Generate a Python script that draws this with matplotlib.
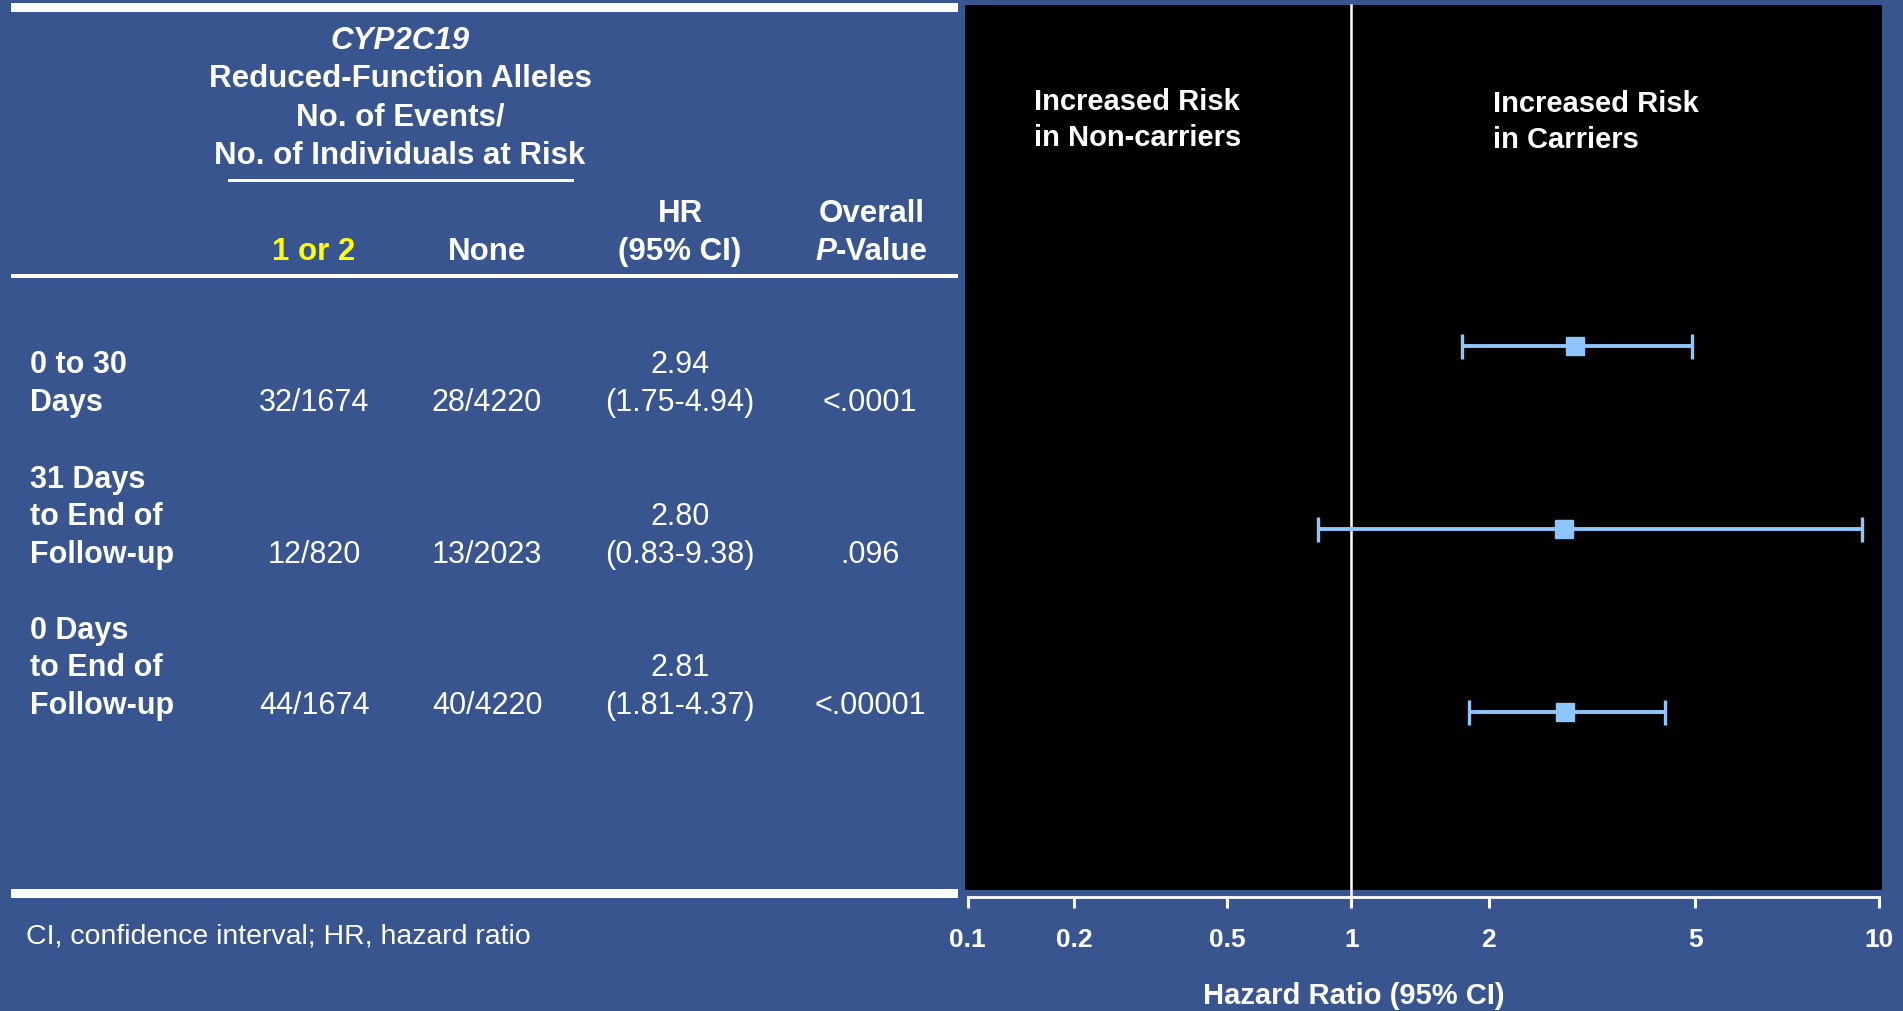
import numpy as np
import matplotlib
matplotlib.use("Agg")
import matplotlib.pyplot as plt
from matplotlib.patches import Rectangle
from matplotlib.ticker import NullLocator

W, H = 1903, 1012
DPI = 100

BG     = "#385590"
PANEL  = "#000000"
WHITE  = "#ffffff"
YELLOW = "#ffff00"
CI_COL = "#8ec5fc"
FONT   = "Liberation Sans"

# ── data ───────────────────────────────────────────────────────────
periods = [
    ["0 to 30", "Days"],
    ["31 Days", "to End of", "Follow-up"],
    ["0 Days", "to End of", "Follow-up"],
]
carrier_events    = ["32/1674", "12/820", "44/1674"]
noncarrier_events = ["28/4220", "13/2023", "40/4220"]
hr      = [2.94, 2.80, 2.81]
ci_low  = [1.75, 0.83, 1.81]
ci_high = [4.94, 9.38, 4.37]
p_values = ["<.0001", ".096", "<.00001"]

hr_ticks       = [0.1, 0.2, 0.5, 1, 2, 5, 10]
hr_tick_labels = ["0.1", "0.2", "0.5", "1", "2", "5", "10"]
# log-like axis, but every segment between ticks has its own width
tick_frac = [0.0, 0.1173, 0.2846, 0.4214, 0.5718, 0.7985, 1.0]

header_lines = ["CYP2C19", "Reduced-Function Alleles", "No. of Events/",
                "No. of Individuals at Risk"]


# ── helpers (all positions in pixels, y from the top) ──────────────

def put(fig, x, y, s, size, weight="bold", style="normal", color=WHITE, ha="center"):
    # y is the middle of the capitals
    base = y + 0.358 * size * DPI / 72
    fig.text(x / W, 1 - base / H, s, ha=ha, va="baseline", fontsize=size,
             fontweight=weight, fontstyle=style, color=color, family=FONT)


def bar(fig, x0, x1, y0, y1, color=WHITE, z=1):
    fig.add_artist(Rectangle((x0 / W, 1 - y1 / H), (x1 - x0) / W, (y1 - y0) / H,
                             transform=fig.transFigure, facecolor=color,
                             edgecolor="none", zorder=z))


def hr_forward(x):
    x = np.clip(np.asarray(x, dtype=float), 1e-6, None)
    return np.interp(np.log10(x), np.log10(hr_ticks), tick_frac)


def hr_inverse(v):
    return 10 ** np.interp(v, tick_frac, np.log10(hr_ticks))


def main():
    fig = plt.figure(figsize=(W / DPI, H / DPI), dpi=DPI)
    fig.patch.set_facecolor(BG)

    # ── table on the left ──
    bar(fig, 11, 958, 4, 13)
    bar(fig, 11, 958, 275, 279)
    bar(fig, 11, 958, 890, 899)
    bar(fig, 228, 574, 180, 183)

    TS = 22.5
    for i, line in enumerate(header_lines):
        put(fig, 400, 38 + i * 38.2, line, TS,
            style="italic" if i == 0 else "normal")

    put(fig, 314, 249, "1 or 2", TS, color=YELLOW)
    put(fig, 487, 249, "None", TS)
    put(fig, 680, 211, "HR", TS)
    put(fig, 680, 249, "(95% CI)", TS)
    put(fig, 872, 211, "Overall", TS)
    put(fig, 836, 249, "P", TS, style="italic", ha="right")
    put(fig, 836, 249, "-Value", TS, ha="left")

    row_y = [400, 552, 703]
    step = 37.7
    for i, lines in enumerate(periods):
        y0 = row_y[i] - step * (len(lines) - 1)
        for j, line in enumerate(lines):
            put(fig, 30, y0 + j * step, line, 22, ha="left")
        put(fig, 314, row_y[i], carrier_events[i], 22, weight="normal")
        put(fig, 487, row_y[i], noncarrier_events[i], 22, weight="normal")
        put(fig, 680, row_y[i] - step, f"{hr[i]:.2f}", 22, weight="normal")
        put(fig, 680, row_y[i], f"({ci_low[i]:.2f}-{ci_high[i]:.2f})", 22, weight="normal")
        put(fig, 870, row_y[i], p_values[i], 22, weight="normal")

    put(fig, 26, 933, "CI, confidence interval; HR, hazard ratio", 20.5,
        weight="normal", ha="left")

    # ── forest plot on the right ──
    bar(fig, 965, 1882, 6, 891, color=PANEL, z=-1)

    ax = fig.add_axes([967.6 / W, 1 - 891 / H, 911 / W, 885 / H])
    ax.set_facecolor("none")
    ax.set_xscale("function", functions=(hr_forward, hr_inverse))
    ax.set_xlim(0.1, 10)

    y = np.arange(1, len(hr) + 1)
    hr_a, lo, hi = np.array(hr), np.array(ci_low), np.array(ci_high)
    ax.errorbar(hr_a, y, xerr=[hr_a - lo, hi - hr_a], fmt="s", color=CI_COL,
                ms=13, elinewidth=2.8, capsize=9, capthick=2.4, zorder=3)
    ax.set_ylim(3.973, -0.863)

    ax.axvline(1, ymin=-0.0076, ymax=1, color=WHITE, lw=1.8, clip_on=False, zorder=2)

    for sp in ["top", "right", "left"]:
        ax.spines[sp].set_visible(False)
    ax.spines["bottom"].set_position(("outward", 4.8))
    ax.spines["bottom"].set_bounds(0.1, 10)
    ax.spines["bottom"].set_color(WHITE)
    ax.spines["bottom"].set_linewidth(2)

    ax.set_yticks([])
    ax.set_xticks(hr_ticks, labels=hr_tick_labels, fontweight="bold",
                  fontsize=19, family=FONT)
    ax.xaxis.set_minor_locator(NullLocator())
    ax.tick_params(axis="x", direction="out", length=8, width=2.2,
                   color=WHITE, labelcolor=WHITE, pad=14)

    put(fig, 1034, 100, "Increased Risk", 21, ha="left")
    put(fig, 1034, 136, "in Non-carriers", 21, ha="left")
    put(fig, 1493, 102, "Increased Risk", 21, ha="left")
    put(fig, 1493, 138, "in Carriers", 21, ha="left")

    put(fig, 1354, 994, "Hazard Ratio (95% CI)", 21)

    fig.savefig("out.png", dpi=DPI, facecolor=BG)
    plt.close(fig)


if __name__ == "__main__":
    main()
